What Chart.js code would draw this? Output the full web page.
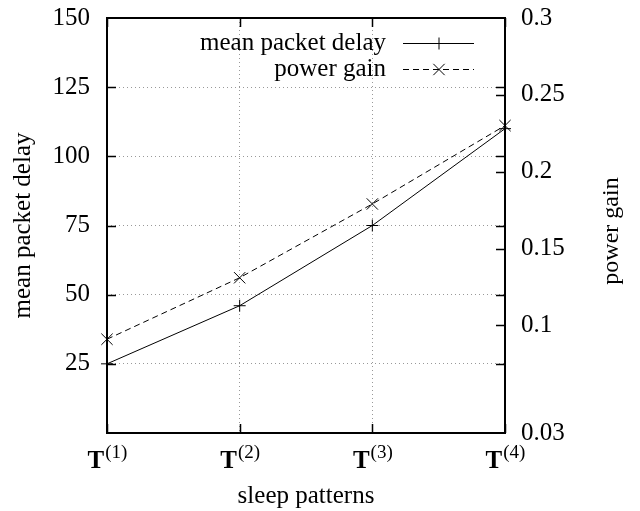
<!DOCTYPE html>
<html>
<head>
<meta charset="utf-8">
<script src="https://cdn.jsdelivr.net/npm/chart.js@4.4.1/dist/chart.umd.min.js"></script>
<style>
  html, body { margin: 0; padding: 0; background: #fff; }
  #wrap { width: 640px; height: 511px; }
</style>
</head>
<body>
<div id="wrap"><canvas id="delayChart" width="640" height="511"></canvas></div>
<script>
// sleep patterns T(1)..T(4)
const patterns = ["(1)", "(2)", "(3)", "(4)"]
const meanDelay = [25, 46, 75, 110]
const powerGain = [0.091, 0.131, 0.179, 0.23]
const delayTicks = [0, 25, 50, 75, 100, 125, 150]
const gainTicks = [0.03, 0.1, 0.15, 0.2, 0.25, 0.3]

const serif = "'Liberation Serif', 'DejaVu Serif', serif"
const tickFont = { family: serif, size: 25 }
const titleFont = { family: serif, size: 25 }

// gnuplot style frame: border plus inward tick marks (mirrored)
const framePlugin = {
  id: "frame",
  beforeDatasetsDraw(chart) {
    const { ctx, chartArea: a, scales } = chart
    const len = 9
    ctx.save()
    ctx.strokeStyle = "#000"
    ctx.lineWidth = 1.5
    ctx.beginPath()
    delayTicks.slice(1, -1).forEach((v) => {
      const y = Math.round(scales.y.getPixelForValue(v)) + 0.5
      ctx.moveTo(a.left, y); ctx.lineTo(a.left + len, y)
      ctx.moveTo(a.right, y); ctx.lineTo(a.right - len, y)
    })
    gainTicks.slice(1, -1).forEach((v) => {
      const y = Math.round(scales.y2.getPixelForValue(v)) + 0.5
      ctx.moveTo(a.right, y); ctx.lineTo(a.right - len, y)
    })
    patterns.forEach((p, i) => {
      const x = Math.round(scales.x.getPixelForValue(i)) + 0.5
      ctx.moveTo(x, a.bottom); ctx.lineTo(x, a.bottom - len)
      ctx.moveTo(x, a.top); ctx.lineTo(x, a.top + len)
    })
    ctx.stroke()
    ctx.lineWidth = 2
    ctx.strokeRect(a.left, a.top, a.right - a.left, a.bottom - a.top)
    ctx.restore()
  },
  afterDraw(chart) {
    const { ctx, chartArea: a, scales } = chart
    ctx.save()
    ctx.fillStyle = "#000"
    ctx.textBaseline = "alphabetic"
    patterns.forEach((p, i) => {
      const x = scales.x.getPixelForValue(i)
      ctx.font = "bold 25px " + serif
      const wT = ctx.measureText("T").width
      ctx.font = "19px " + serif
      const wS = ctx.measureText(p).width
      const x0 = x - (wT + wS) / 2
      ctx.font = "bold 25px " + serif
      ctx.fillText("T", x0, a.bottom + 35)
      ctx.font = "19px " + serif
      ctx.fillText(p, x0 + wT + 1, a.bottom + 25)
    })

    // right axis title reads bottom to top, like gnuplot's y2label
    ctx.save()
    ctx.translate(612, 231)
    ctx.rotate(-Math.PI / 2)
    ctx.font = "24px " + serif
    ctx.textAlign = "center"
    ctx.textBaseline = "middle"
    ctx.fillText("power gain", 0, 0)
    ctx.restore()

    // legend, text right aligned with a line sample to its right
    const rows = [
      { text: "mean packet delay", ds: chart.data.datasets[0], y: 43 },
      { text: "power gain", ds: chart.data.datasets[1], y: 69 },
    ]
    ctx.font = "25px " + serif
    ctx.textAlign = "right"
    ctx.textBaseline = "middle"
    rows.forEach((r) => {
      ctx.fillStyle = "#000"
      ctx.fillText(r.text, 386, r.y)
      ctx.strokeStyle = "#000"
      ctx.lineWidth = 1
      ctx.setLineDash(r.ds.borderDash || [])
      ctx.beginPath()
      ctx.moveTo(403, r.y + 0.5); ctx.lineTo(474, r.y + 0.5)
      ctx.stroke()
      ctx.setLineDash([])
      Chart.helpers.drawPoint(ctx, { pointStyle: r.ds.pointStyle, radius: r.ds.pointRadius, borderWidth: 1 }, 439, r.y + 0.5)
    })
    ctx.restore()
  },
}

// fixed axis boxes so the plot frame lands where the original has it
function fixWidth(w) {
  return (s) => {
    s.width = w
    s.paddingTop = 0
    s.paddingBottom = 0
  }
}

new Chart(document.getElementById("delayChart"), {
  type: "line",
  data: {
    labels: patterns,
    datasets: [
      {
        label: "mean packet delay",
        data: meanDelay,
        yAxisID: "y",
        borderColor: "#000",
        borderWidth: 1,
        pointStyle: "cross",
        pointRadius: 6,
        pointBorderColor: "#000",
        pointBorderWidth: 1,
        tension: 0,
        clip: false,
      },
      {
        label: "power gain",
        data: powerGain,
        yAxisID: "y2",
        borderColor: "#000",
        borderWidth: 1,
        borderDash: [6, 4],
        pointStyle: "crossRot",
        pointRadius: 8,
        pointBorderColor: "#000",
        pointBorderWidth: 1,
        tension: 0,
        clip: false,
      },
    ],
  },
  options: {
    responsive: false,
    animation: false,
    devicePixelRatio: 1,
    layout: { padding: { top: 18, left: 0, right: 0, bottom: 0 } },
    plugins: {
      legend: { display: false },
      tooltip: { enabled: false },
    },
    scales: {
      x: {
        type: "category",
        offset: false,
        afterFit(s) {
          s.height = 78
          s.paddingLeft = 0
          s.paddingRight = 0
        },
        ticks: { display: false },
        grid: { color: "#999", drawTicks: false, lineWidth: 1 },
        border: { display: false, dash: [1, 3] },
        title: { display: true, text: "sleep patterns", font: titleFont, color: "#000", padding: { top: 0, bottom: 0 } },
      },
      y: {
        position: "left",
        min: 0,
        max: 150,
        afterFit: fixWidth(107),
        afterBuildTicks(s) { s.ticks = delayTicks.map((v) => ({ value: v })) },
        ticks: {
          font: tickFont,
          color: "#000",
          padding: 17,
          callback: (v) => (v === 0 ? "" : v),
        },
        grid: { color: "#999", drawTicks: false, lineWidth: 1 },
        border: { display: false, dash: [1, 3] },
        title: { display: true, text: "mean packet delay", font: titleFont, color: "#000", padding: { top: 8, bottom: 0 } },
      },
      y2: {
        position: "right",
        min: 0.03,
        max: 0.3,
        afterFit: fixWidth(135),
        afterBuildTicks(s) { s.ticks = gainTicks.map((v) => ({ value: v })) },
        ticks: {
          font: tickFont,
          color: "#000",
          padding: 16,
          callback: (v) => String(v),
        },
        grid: { display: false, drawTicks: false },
        border: { display: false },
      },
    },
  },
  plugins: [framePlugin],
})
</script>
</body>
</html>
